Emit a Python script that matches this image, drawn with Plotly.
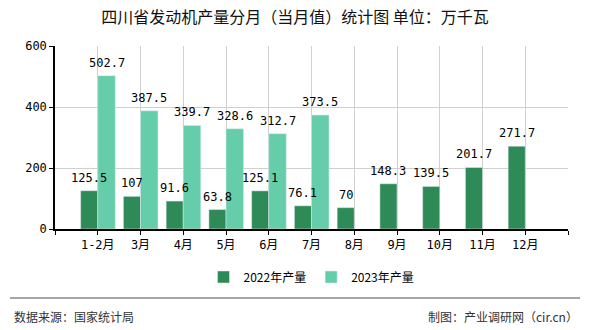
import plotly.graph_objects as go

categories = ["1-2月", "3月", "4月", "5月", "6月", "7月", "8月", "9月", "10月", "11月", "12月"]
values_2022 = [125.5, 107, 91.6, 63.8, 125.1, 76.1, 70, 148.3, 139.5, 201.7, 271.7]
values_2023 = [502.7, 387.5, 339.7, 328.6, 312.7, 373.5, None, None, None, None, None]
y_ticks = [0, 200, 400, 600]

pos = list(range(1, len(categories) + 1))
mono = "DejaVu Sans Mono, Noto Sans CJK SC"
cjk = "Noto Sans CJK SC, sans-serif"
W22, W23 = 0.4, 0.41

def fmt(v):
    return str(int(v)) if float(v).is_integer() else str(v)

fig = go.Figure()
fig.add_trace(go.Bar(
    x=pos, y=values_2022, name="2022年产量", marker_color="#2E8B57",
    offset=-W22, width=W22,
))
fig.add_trace(go.Bar(
    x=pos, y=values_2023, name="2023年产量", marker_color="#66CDAA",
    offset=0, width=W23,
))

# value labels on top of everything
for p, v in zip(pos, values_2022):
    if v is not None:
        fig.add_annotation(x=p - W22 / 2, y=v, text=fmt(v), showarrow=False,
                           yanchor="middle", yshift=13,
                           font=dict(family=mono, size=12, color="#000"))
for p, v in zip(pos, values_2023):
    if v is not None:
        fig.add_annotation(x=p + W23 / 2, y=v, text=fmt(v), showarrow=False,
                           yanchor="middle", yshift=13,
                           font=dict(family=mono, size=12, color="#000"))

fig.update_layout(
    width=590, height=330,
    margin=dict(l=55, r=22, t=46, b=101),
    paper_bgcolor="white", plot_bgcolor="white",
    title=dict(text="四川省发动机产量分月（当月值）统计图 单位：万千瓦", x=0.5, xanchor="center",
               y=1 - 17 / 330, yanchor="middle", font=dict(family=cjk, size=16, color="#111")),
    showlegend=True,
    legend=dict(orientation="h", x=0.5, xanchor="center", y=-(277 - 229) / 183, yanchor="middle",
                font=dict(family=cjk, size=12, color="#000"), traceorder="normal",
                itemwidth=30),
    font=dict(family=mono, size=12, color="#000"),
)
fig.update_xaxes(
    range=[0, len(categories) + 1],
    tickvals=[0] + pos + [len(categories) + 1],
    ticktext=[""] + categories + [""],
    showgrid=True, gridcolor="#d0d0d0", gridwidth=1,
    showline=True, linecolor="#000", linewidth=1.5,
    ticks="outside", ticklen=4, tickcolor="#000",
    tickfont=dict(family=mono, size=12, color="#000"),
    zeroline=False,
)
fig.update_yaxes(
    range=[0, 600], tickvals=y_ticks,
    showgrid=True, gridcolor="#d0d0d0", gridwidth=1,
    showline=True, linecolor="#000", linewidth=1.5,
    ticks="outside", ticklen=4, tickcolor="#000",
    tickfont=dict(family=mono, size=12, color="#000"),
    zeroline=False,
)

# footer line and texts
fig.add_shape(type="line", xref="paper", yref="paper", x0=-45/513, x1=(580-55)/513,
              y0=-(298-229)/183, y1=-(298-229)/183, line=dict(color="#888", width=1.5))
fig.add_annotation(text="数据来源：国家统计局", xref="paper", yref="paper",
                   x=-43/513, xanchor="left", y=-(316-229)/183, yanchor="middle",
                   showarrow=False, font=dict(family=cjk, size=12, color="#333"))
fig.add_annotation(text="制图：产业调研网（cir.cn）", xref="paper", yref="paper",
                   x=(580-55)/513, xanchor="right", y=-(316-229)/183, yanchor="middle",
                   showarrow=False, font=dict(family=cjk, size=12, color="#333"))

fig.write_html("out.html")
